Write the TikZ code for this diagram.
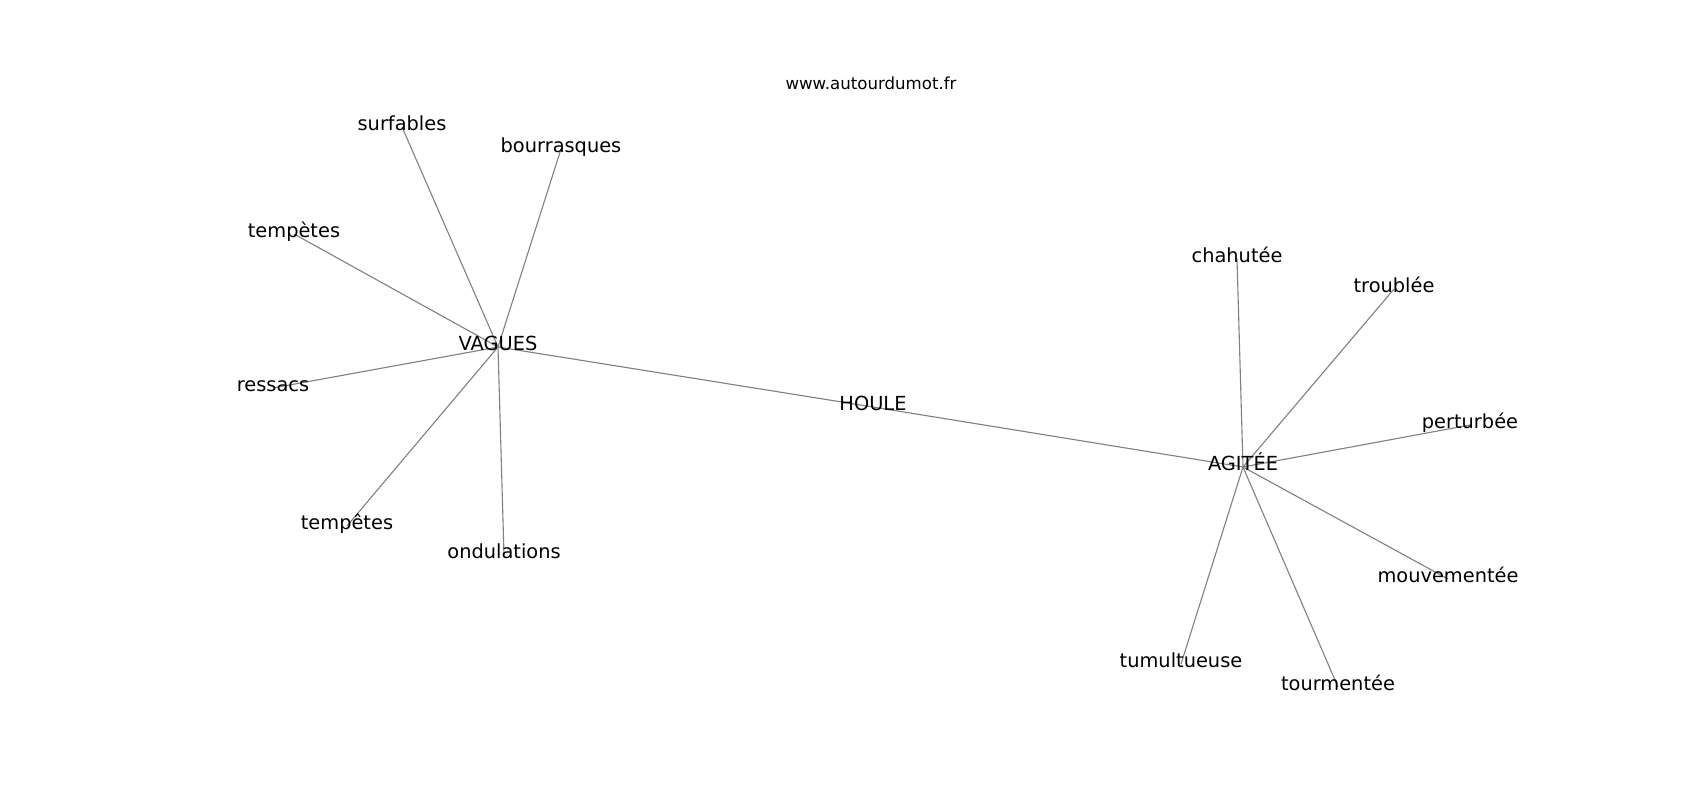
\documentclass[tikz,border=0pt]{standalone}
\usepackage{fontspec}
\setmainfont{DejaVu Sans}
\usetikzlibrary{backgrounds}

\tikzset{
  word/.style={inner sep=0pt, text height=0.76em, text depth=0.24em, font=\fontsize{14}{16}\selectfont},
  link/.style={draw=gray, line width=0.8pt}
}

\begin{document}
\begin{tikzpicture}[x=0.01in, y=-0.01in]
    \useasboundingbox (0,0) rectangle (1700,800);

    % Site name
    \node[inner sep=0pt, font=\fontsize{12}{14}\selectfont] (url) at (871,83) {www.autourdumot.fr};

    % Centre and hubs
    \node[word] (houle) at (873,407) {HOULE};
    \node[word] (vagues) at (498,347) {VAGUES};
    \node[word] (agitee) at (1243,467) {AGITÉE};

    % Words round VAGUES
    \node[word] (surfables) at (402,127) {surfables};
    \node[word] (bourrasques) at (561,149) {bourrasques};
    \node[word] (tempetesA) at (294,234) {tempètes};
    \node[word] (ressacs) at (273,388) {ressacs};
    \node[word] (tempetesB) at (347,526) {tempêtes};
    \node[word] (ondulations) at (504,555) {ondulations};

    % Words round AGITEE
    \node[word] (chahutee) at (1237,259) {chahutée};
    \node[word] (troublee) at (1394,289) {troublée};
    \node[word] (perturbee) at (1470,425) {perturbée};
    \node[word] (mouvementee) at (1448,579) {mouvementée};
    \node[word] (tumultueuse) at (1181,664) {tumultueuse};
    \node[word] (tourmentee) at (1338,687) {tourmentée};

    % Connections
    \begin{pgfonlayer}{background}
    \draw[link] (vagues.center) -- (houle.center) -- (agitee.center);
    \foreach \w in {surfables, bourrasques, tempetesA, ressacs, tempetesB, ondulations}
        \draw[link] (vagues.center) -- (\w.center);
    \foreach \w in {chahutee, troublee, perturbee, mouvementee, tumultueuse, tourmentee}
        \draw[link] (agitee.center) -- (\w.center);
    \end{pgfonlayer}
\end{tikzpicture}
\end{document}
